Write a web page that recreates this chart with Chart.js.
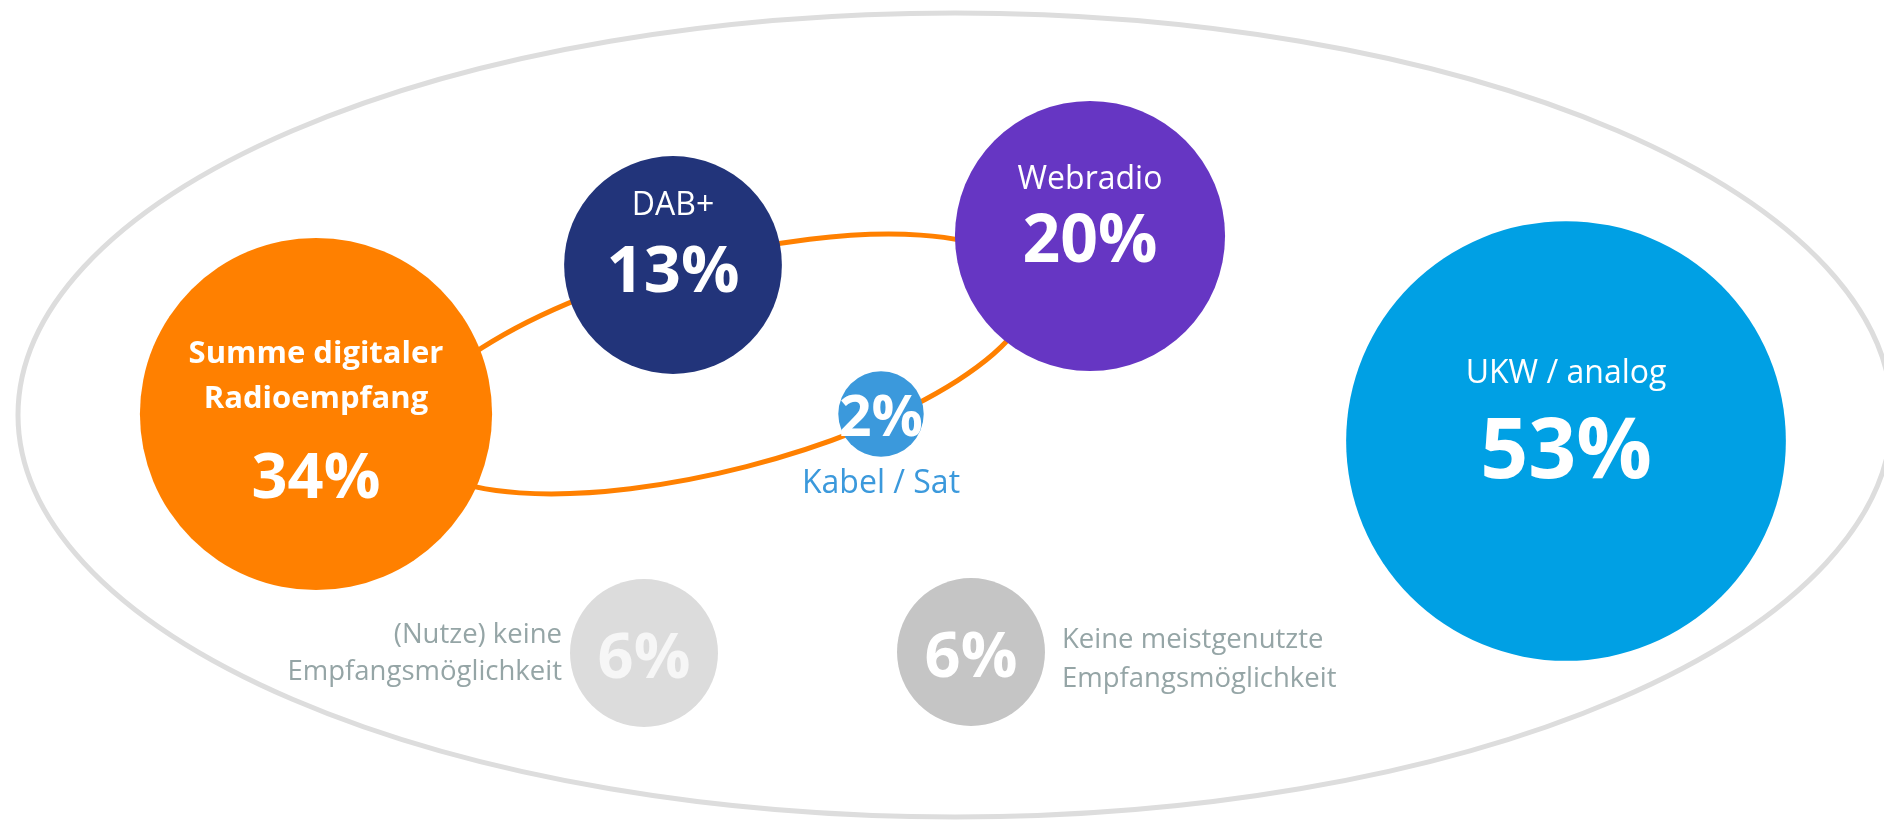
<!DOCTYPE html>
<html lang="de">
<head>
<meta charset="utf-8">
<title>Meistgenutzter Radioempfang</title>
<script src="https://cdn.jsdelivr.net/npm/chart.js@4.4.1/dist/chart.umd.min.js"></script>
<style>
  html, body { margin: 0; padding: 0; background: #ffffff; }
  #wrap { position: relative; width: 1884px; height: 820px; }
</style>
</head>
<body>
<div id="wrap"><canvas id="chart"></canvas></div>
<script>
// Shares of the most used way to receive radio (percent)
const categories = [
  'Summe digitaler Radioempfang',
  'DAB+',
  'Webradio',
  'Kabel / Sat',
  'UKW / analog',
  '(Nutze) keine Empfangsmöglichkeit',
  'Keine meistgenutzte Empfangsmöglichkeit'
];
const shares = [34, 13, 20, 2, 53, 6, 6];

// Text lines shown next to / inside each bubble
const nameLines = [
  ['Summe digitaler', 'Radioempfang'],
  ['DAB+'],
  ['Webradio'],
  ['Kabel / Sat'],
  ['UKW / analog'],
  ['(Nutze) keine', 'Empfangsmöglichkeit'],
  ['Keine meistgenutzte', 'Empfangsmöglichkeit']
];

// Layout: bubble centres on a 1884 x 820 plane
const centres = [
  [316, 414], [673, 265], [1090, 236], [881, 414],
  [1566, 441], [644, 653], [971, 652]
];
const fills = ['#ff8000', '#22347a', '#6636c3', '#3b99dc', '#00a0e4', '#dcdcdc', '#c5c5c5'];
const RADIUS_PER_SQRT = 30.2;   // bubble area proportional to share

// Label styling per bubble
const FONT = "'Open Sans', 'Noto Sans', sans-serif";
const labelStyle = [
  { name: { size: 31, weight: 'bold', dy: [-51, -6], color: '#ffffff' }, value: { size: 63, dy: 84, color: '#ffffff' } },
  { name: { size: 32, weight: 'normal', dy: [-50], color: '#ffffff' }, value: { size: 65, dy: 27, color: '#ffffff' } },
  { name: { size: 32, weight: 'normal', dy: [-47], color: '#ffffff' }, value: { size: 66, dy: 26, color: '#ffffff' } },
  { name: { size: 32, weight: 'normal', dy: [79], color: '#3b99dc' }, value: { size: 57, dy: 22, color: '#ffffff' } },
  { name: { size: 32, weight: 'normal', dy: [-58], color: '#ffffff' }, value: { size: 84, dy: 37, color: '#ffffff' } },
  { name: { size: 27.5, weight: 'normal', dy: [-10, 27], dx: -82, align: 'right', color: '#95a5a6' }, value: { size: 63, dy: 25, color: '#f6f6f6' } },
  { name: { size: 27.5, weight: 'normal', dy: [-4, 35], dx: 91, align: 'left', color: '#95a5a6' }, value: { size: 63, dy: 25, color: '#ffffff' } }
];

// Framing ellipses (centre, radii, rotation in degrees)
const outerFrame = { cx: 955, cy: 415, rx: 937, ry: 402, rot: 0, color: '#dddddd', width: 5 };
const digitalRing = { cx: 720, cy: 364, rx: 320, ry: 106, rot: -14.4, color: '#ff8000', width: 5 };

function drawEllipse(chart, e) {
  const { ctx, scales: { x, y } } = chart;
  const px = x.getPixelForValue(e.cx), py = y.getPixelForValue(e.cy);
  const rx = Math.abs(x.getPixelForValue(e.cx + e.rx) - px);
  const ry = Math.abs(y.getPixelForValue(e.cy + e.ry) - py);
  ctx.save();
  ctx.beginPath();
  ctx.ellipse(px, py, rx, ry, e.rot * Math.PI / 180, 0, Math.PI * 2);
  ctx.strokeStyle = e.color;
  ctx.lineWidth = e.width;
  ctx.stroke();
  ctx.restore();
}

const framePlugin = {
  id: 'frames',
  beforeDatasetsDraw(chart) {
    drawEllipse(chart, outerFrame);
    drawEllipse(chart, digitalRing);
  }
};

const labelPlugin = {
  id: 'bubbleLabels',
  afterDatasetsDraw(chart) {
    const { ctx } = chart;
    const meta = chart.getDatasetMeta(0);
    ctx.save();
    ctx.textBaseline = 'alphabetic';
    meta.data.forEach((el, i) => {
      const st = labelStyle[i];
      const cx = el.x, cy = el.y;
      // category name
      ctx.font = `${st.name.weight} ${st.name.size}px ${FONT}`;
      ctx.fillStyle = st.name.color;
      ctx.textAlign = st.name.align || 'center';
      nameLines[i].forEach((line, j) => {
        ctx.fillText(line, cx + (st.name.dx || 0), cy + st.name.dy[j]);
      });
      // share value
      ctx.font = `bold ${st.value.size}px ${FONT}`;
      ctx.fillStyle = st.value.color;
      ctx.textAlign = 'center';
      ctx.fillText(shares[i] + '%', cx, cy + st.value.dy);
    });
    ctx.restore();
  }
};

function build() {
  const points = shares.map((v, i) => ({
    x: centres[i][0],
    y: centres[i][1],
    r: RADIUS_PER_SQRT * Math.sqrt(v)
  }));

  new Chart(document.getElementById('chart'), {
    type: 'bubble',
    data: {
      labels: categories,
      datasets: [{
        label: 'Meistgenutzter Radioempfang',
        data: points,
        backgroundColor: fills,
        borderWidth: 0,
        hoverBorderWidth: 0,
        hoverRadius: 0,
        clip: false
      }]
    },
    options: {
      responsive: true,
      maintainAspectRatio: false,
      animation: false,
      events: [],
      layout: { padding: 0, autoPadding: false },
      scales: {
        x: { type: 'linear', min: 0, max: 1884, display: false },
        y: { type: 'linear', min: 0, max: 820, reverse: true, display: false }
      },
      plugins: {
        legend: { display: false },
        tooltip: { enabled: false }
      }
    },
    plugins: [framePlugin, labelPlugin]
  });
}

const fontLoads = [
  `bold 64px ${FONT}`, `normal 32px ${FONT}`
].map(f => document.fonts ? document.fonts.load(f).catch(() => null) : Promise.resolve());
Promise.all(fontLoads).then(build, build);
</script>
</body>
</html>
